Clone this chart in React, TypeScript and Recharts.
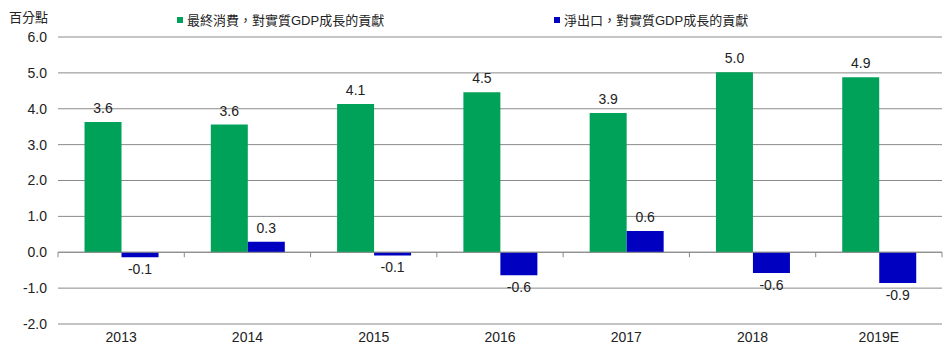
import React from "react";
import { BarChart, Bar, XAxis, YAxis, CartesianGrid, Legend, LabelList, ReferenceLine } from "recharts";

const years = ["2013", "2014", "2015", "2016", "2017", "2018", "2019E"];
const consumption = [3.63, 3.56, 4.13, 4.46, 3.88, 5.02, 4.88];
const netExports = [-0.14, 0.29, -0.09, -0.64, 0.59, -0.58, -0.86];
const yTicks = [-2, -1, 0, 1, 2, 3, 4, 5, 6];

const consumptionName = "最終消費，對實質GDP成長的貢獻";
const netExportsName = "淨出口，對實質GDP成長的貢獻";

const data = years.map((year, i) => ({
  year,
  consumption: consumption[i],
  netExports: netExports[i],
}));

const FONT = '"Liberation Sans", Arial, "Noto Sans CJK TC", sans-serif';
const GREEN = "#00A25A";
const BLUE = "#0000C0";
const GRID = "#8A8A8A";
const TEXT = "#222";

// value labels: above positive bars, below negative ones
const renderLabel = (props: any) => {
  const { x, y, width, height, value } = props;
  const top = Math.min(y, y + height);
  const bottom = Math.max(y, y + height);
  const ty = value >= 0 ? top - 9 : bottom + 17;
  return (
    <text x={x + width / 2} y={ty} textAnchor="middle" fontSize={14} fill={TEXT} fontFamily={FONT}>
      {Number(value).toFixed(1)}
    </text>
  );
};

// zero line with small ticks at category boundaries
const ZeroAxis = (props: any) => {
  const { x1, x2, y1 } = props;
  const step = (x2 - x1) / years.length;
  return (
    <g>
      <line x1={x1} x2={x2} y1={y1} y2={y1} stroke={GRID} strokeWidth={1} />
      {years.concat("").map((_, i) => (
        <line key={i} x1={x1 + i * step} x2={x1 + i * step} y1={y1} y2={y1 + 5} stroke={GRID} strokeWidth={1} />
      ))}
    </g>
  );
};

const renderLegend = () => (
  <div style={{ position: "relative", width: 600, height: 20, fontFamily: FONT, fontSize: 13, color: TEXT }}>
    {[
      { name: consumptionName, color: GREEN, left: 0 },
      { name: netExportsName, color: BLUE, left: 377 },
    ].map((item) => (
      <div key={item.name} style={{ position: "absolute", left: item.left, top: 0, display: "flex", alignItems: "center", whiteSpace: "nowrap" }}>
        <span style={{ display: "inline-block", width: 6, height: 6, background: item.color, marginRight: 4 }} />
        <span>{item.name}</span>
      </div>
    ))}
  </div>
);

export default function App() {
  return (
    <div style={{ position: "absolute", left: 0, top: 0, width: 950, height: 351, background: "#fff" }}>
      <div style={{ position: "absolute", left: 9, top: 7, fontFamily: FONT, fontSize: 13, color: TEXT, zIndex: 2 }}>
        百分點
      </div>
      <BarChart
        width={950}
        height={351}
        data={data}
        margin={{ top: 37, right: 8, bottom: 0, left: 0 }}
        barCategoryGap="21%"
        barGap={0}
      >
        <CartesianGrid vertical={false} stroke={GRID} strokeWidth={1} />
        <XAxis
          dataKey="year"
          axisLine={false}
          tickLine={false}
          height={27}
          tick={{ fontSize: 14, fill: TEXT, fontFamily: FONT }}
        />
        <YAxis
          width={58}
          domain={[-2, 6]}
          ticks={yTicks}
          axisLine={false}
          tickLine={false}
          tickMargin={5}
          tickFormatter={(v: number) => v.toFixed(1)}
          tick={{ fontSize: 14, fill: TEXT, fontFamily: FONT }}
        />
        <Legend
          layout="horizontal"
          verticalAlign="middle"
          align="center"
          content={renderLegend}
          wrapperStyle={{ top: 10, left: 177, width: 600, height: 20 }}
        />
        <Bar dataKey="consumption" name={consumptionName} fill={GREEN} isAnimationActive={false}>
          <LabelList dataKey="consumption" content={renderLabel} />
        </Bar>
        <Bar dataKey="netExports" name={netExportsName} fill={BLUE} isAnimationActive={false}>
          <LabelList dataKey="netExports" content={renderLabel} />
        </Bar>
        <ReferenceLine y={0} shape={ZeroAxis} />
      </BarChart>
    </div>
  );
}
